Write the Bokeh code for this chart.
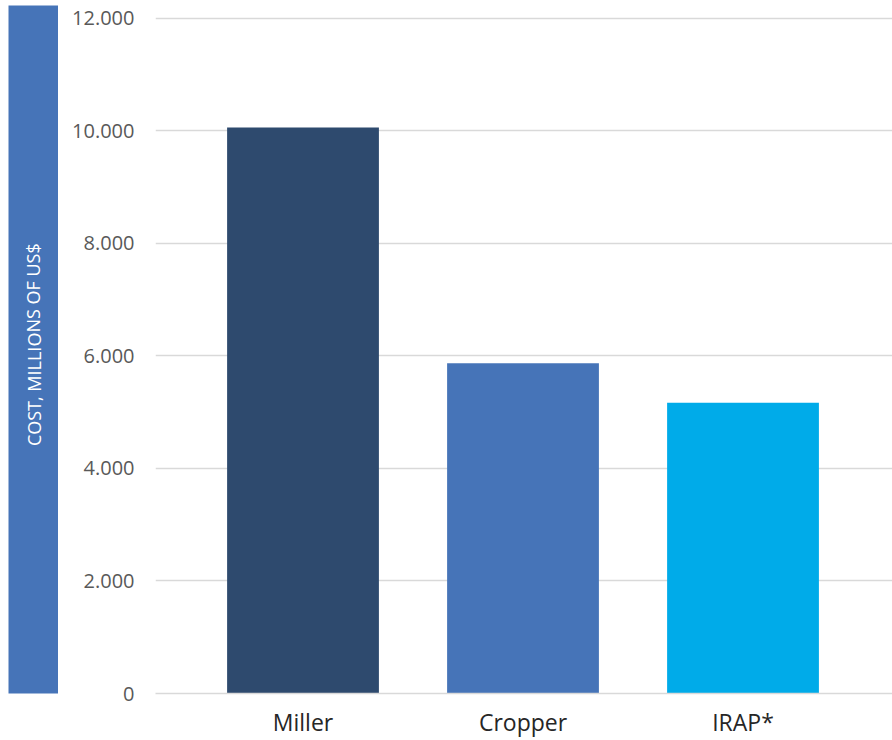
from bokeh.plotting import figure
from bokeh.layouts import row
from bokeh.models import Range1d, FixedTicker, CustomJSTickFormatter
from bokeh.core.properties import value
from bokeh.embed import file_html
from bokeh.resources import INLINE

# ---- data ----
categories = ["Miller", "Cropper", "IRAP*"]
costs = [10060, 5870, 5170]
bar_colors = ["#2E4A6E", "#4674B8", "#00ABE9"]
y_ticks = [0, 2000, 4000, 6000, 8000, 10000, 12000]
y_label = "COST, MILLIONS OF US$"

FONT = "Open Sans"
H = 740

# ---- left panel: blue band with vertical axis title ----
left = figure(width=58, height=H, output_backend="svg", toolbar_location=None,
              x_range=Range1d(0, 1), y_range=Range1d(0, 1),
              min_border_left=8, min_border_right=0, min_border_top=5, min_border_bottom=47)
left.axis.visible = False
left.grid.visible = False
left.outline_line_color = None
left.background_fill_color = "#4674B8"
left.border_fill_color = "white"
left.text(x=[0.5], y=[0.507], text=[y_label], angle=1.5708, text_align="center",
          text_baseline="middle", text_color="white", text_font=value(FONT),
          text_font_size="18px")

# ---- main chart ----
xs = list(range(len(categories)))
p = figure(width=834, height=H, output_backend="svg", toolbar_location=None,
           x_range=Range1d(-0.6705, 2.6795), y_range=Range1d(0, 12231),
           min_border_left=97, min_border_right=0, min_border_top=5, min_border_bottom=47)
p.outline_line_color = None
p.background_fill_color = "white"
p.border_fill_color = "white"

p.vbar(x=xs, top=costs, width=0.69, bottom=0, fill_color=bar_colors, line_color=None)

p.xgrid.visible = False
p.ygrid.ticker = FixedTicker(ticks=y_ticks)
p.ygrid.grid_line_color = "#D9D9D9"
p.ygrid.grid_line_width = 1.3
p.ygrid.level = "underlay"

p.yaxis.ticker = FixedTicker(ticks=y_ticks)
p.yaxis.formatter = CustomJSTickFormatter(
    code="return String(Math.round(tick)).replace(/\\B(?=(\\d{3})+(?!\\d))/g, '.');")
p.yaxis.axis_line_color = None
p.yaxis.major_tick_line_color = None
p.yaxis.minor_tick_line_color = None
p.yaxis.major_label_text_font = FONT
p.yaxis.major_label_text_font_size = "20px"
p.yaxis.major_label_text_color = "#595959"
p.yaxis.major_label_standoff = 15

p.xaxis.ticker = FixedTicker(ticks=xs)
p.xaxis.major_label_overrides = {i: c for i, c in zip(xs, categories)}
p.xaxis.axis_line_color = "#D9D9D9"
p.xaxis.axis_line_width = 1.3
p.xaxis.major_tick_line_color = None
p.xaxis.minor_tick_line_color = None
p.xaxis.major_label_text_font = FONT
p.xaxis.major_label_text_font_size = "23px"
p.xaxis.major_label_text_color = "#262626"
p.xaxis.major_label_standoff = 6

layout = row(left, p, spacing=0)

with open("out.html", "w") as f:
    f.write(file_html(layout, INLINE))
